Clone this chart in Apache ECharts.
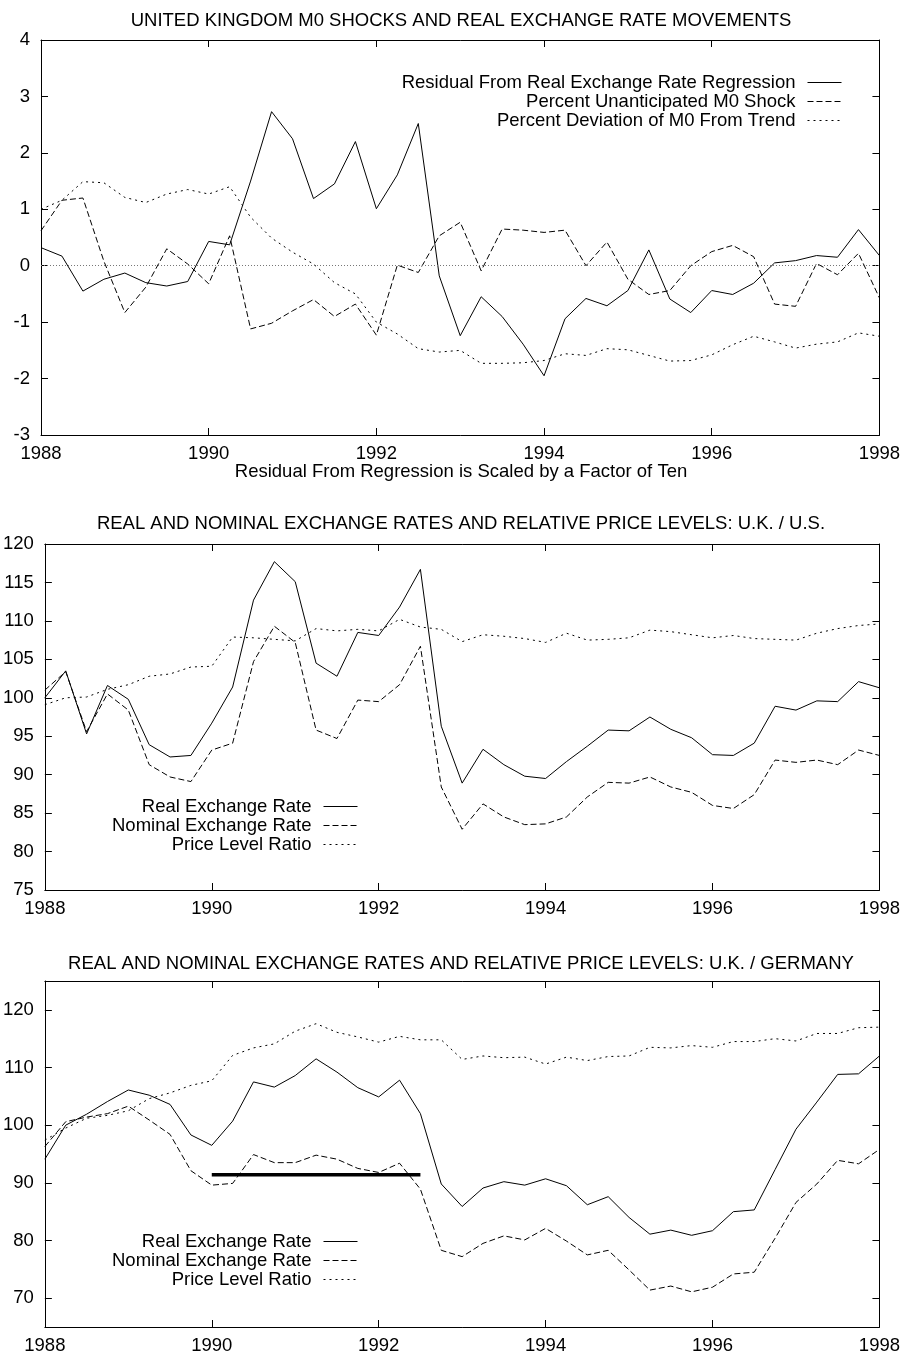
<!DOCTYPE html>
<html><head><meta charset="utf-8">
<script src="https://cdn.jsdelivr.net/npm/echarts@6/dist/echarts.min.js"></script>
<style>html,body{margin:0;padding:0;background:#fff}#c{width:903px;height:1355px}</style>
</head><body><div id="c"></div>
<script>
// ---- data ----
const quarters = [1988, 1988.25, 1988.5, 1988.75, 1989, 1989.25, 1989.5, 1989.75,
  1990, 1990.25, 1990.5, 1990.75, 1991, 1991.25, 1991.5, 1991.75,
  1992, 1992.25, 1992.5, 1992.75, 1993, 1993.25, 1993.5, 1993.75,
  1994, 1994.25, 1994.5, 1994.75, 1995, 1995.25, 1995.5, 1995.75,
  1996, 1996.25, 1996.5, 1996.75, 1997, 1997.25, 1997.5, 1997.75, 1998];

const m0Residual = [0.32, 0.17, -0.45, -0.24, -0.13, -0.30, -0.36, -0.28, 0.43, 0.37, 1.50, 2.73, 2.25, 1.19, 1.45, 2.20, 1.01, 1.61, 2.52, -0.18,
  -1.24, -0.55, -0.90, -1.39, -1.95, -0.94, -0.58, -0.71, -0.44, 0.28, -0.59, -0.83, -0.44, -0.51, -0.31, 0.05, 0.09, 0.18, 0.15, 0.64, 0.18];
const m0Shock = [0.62, 1.16, 1.20, 0.08, -0.83, -0.38, 0.30, 0.03, -0.32, 0.53, -1.12, -1.02, -0.80, -0.60, -0.90, -0.68, -1.23, 0.01, -0.12, 0.53,
  0.77, -0.09, 0.65, 0.63, 0.59, 0.63, 0.00, 0.42, -0.24, -0.51, -0.44, 0.00, 0.25, 0.36, 0.16, -0.68, -0.72, 0.04, -0.16, 0.22, -0.57];
const m0Deviation = [1.00, 1.16, 1.49, 1.47, 1.21, 1.12, 1.27, 1.35, 1.27, 1.40, 0.86, 0.49, 0.24, 0.03, -0.30, -0.50, -1.00, -1.21, -1.47, -1.53,
  -1.50, -1.73, -1.73, -1.72, -1.68, -1.56, -1.59, -1.47, -1.49, -1.59, -1.69, -1.68, -1.58, -1.40, -1.25, -1.35, -1.46, -1.39, -1.35, -1.19, -1.25];

const usReal = [100.0, 103.5, 95.3, 101.6, 99.8, 93.9, 92.3, 92.5, 96.7, 101.4, 112.7, 117.7, 115.1, 104.5, 102.8, 108.5, 108.1, 111.8, 116.7, 96.3,
  88.9, 93.3, 91.3, 89.8, 89.5, 91.7, 93.7, 95.8, 95.7, 97.5, 95.9, 94.8, 92.6, 92.5, 94.1, 98.9, 98.4, 99.6, 99.5, 102.1, 101.3];
const usNominal = [101.0, 103.4, 95.6, 100.5, 98.4, 91.3, 89.7, 89.1, 93.2, 94.1, 104.7, 109.3, 107.2, 95.8, 94.7, 99.7, 99.5, 101.7, 106.7, 88.4,
  82.9, 86.2, 84.5, 83.5, 83.6, 84.5, 87.1, 89.0, 88.9, 89.7, 88.4, 87.7, 86.0, 85.6, 87.4, 91.9, 91.6, 91.9, 91.3, 93.2, 92.5];
const usPrice = [99.1, 100.0, 100.1, 101.1, 101.7, 102.8, 103.1, 104.0, 104.1, 107.9, 107.8, 107.6, 107.4, 109.0, 108.7, 108.9, 108.7, 110.2, 109.2, 108.9,
  107.3, 108.2, 108.0, 107.7, 107.2, 108.4, 107.5, 107.6, 107.8, 108.8, 108.6, 108.2, 107.8, 108.1, 107.7, 107.6, 107.5, 108.4, 109.0, 109.4, 109.6];

const deReal = [94.1, 100.0, 101.9, 104.1, 106.1, 105.2, 103.6, 98.3, 96.5, 100.7, 107.5, 106.6, 108.6, 111.5, 109.2, 106.5, 104.9, 107.8, 102.0, 89.8,
  85.9, 89.1, 90.2, 89.6, 90.7, 89.5, 86.2, 87.6, 84.0, 81.1, 81.8, 80.9, 81.7, 85.0, 85.3, 92.3, 99.3, 104.0, 108.8, 108.9, 112.0];
const deNominal = [96.3, 100.6, 101.4, 102.0, 103.3, 100.9, 98.4, 92.1, 89.6, 89.9, 94.9, 93.5, 93.5, 94.8, 94.1, 92.5, 91.8, 93.4, 88.9, 78.3,
  77.2, 79.5, 80.8, 80.1, 82.1, 79.9, 77.5, 78.3, 74.9, 71.4, 72.1, 71.1, 71.9, 74.2, 74.5, 80.4, 86.6, 89.8, 93.9, 93.3, 95.8];
const dePrice = [97.4, 99.5, 101.2, 101.7, 102.5, 104.6, 105.6, 106.9, 107.7, 112.1, 113.4, 114.1, 116.3, 117.6, 116.1, 115.3, 114.4, 115.4, 114.8, 114.8,
  111.4, 112.0, 111.7, 111.8, 110.6, 111.8, 111.2, 111.9, 112.0, 113.5, 113.4, 113.8, 113.5, 114.5, 114.5, 115.0, 114.6, 115.9, 115.9, 116.9, 117.0];

const bandYears = [1990, 1992.5];
const bandLevel = 91.4;

const xTicks = [1988, 1990, 1992, 1994, 1996, 1998];
const deYTicks = [70, 80, 90, 100, 110, 120];

const titles = [
  'UNITED KINGDOM M0 SHOCKS AND REAL EXCHANGE RATE MOVEMENTS',
  'REAL AND NOMINAL EXCHANGE RATES AND RELATIVE PRICE LEVELS: U.K. / U.S.',
  'REAL AND NOMINAL EXCHANGE RATES AND RELATIVE PRICE LEVELS: U.K. / GERMANY'
];
const subtitle1 = 'Residual From Regression is Scaled by a Factor of Ten';
const names1 = ['Residual From Real Exchange Rate Regression', 'Percent Unanticipated M0 Shock', 'Percent Deviation of M0 From Trend'];
const names2 = ['Real Exchange Rate', 'Nominal Exchange Rate', 'Price Level Ratio'];

// ---- styling ----
const FONT = '"Liberation Sans", Arial, Helvetica, sans-serif';
const FS = 18.5;
const DASH = [6, 3];
const DOT = [2, 4];

const grids = [
  {left: 41, right: 22, top: 40, height: 395},
  {left: 41, right: 22, top: 544, height: 346},
  {left: 41, right: 22, top: 981, height: 347}
];
const yRanges = [
  {min: -3, max: 4, interval: 1},
  {min: 75, max: 120, interval: 5},
  {min: 65, max: 125, custom: deYTicks}
];

const plain = v => String(v);

const xAxes = [], yAxes = [];
grids.forEach((g, i) => {
  ['bottom', 'top'].forEach(pos => {
    xAxes.push({
      gridIndex: i, type: 'value', position: pos, min: 1988, max: 1998, interval: 2,
      axisLine: {show: true, onZero: false, lineStyle: {color: '#000', width: 1}},
      axisTick: {show: true, inside: true, length: 7, lineStyle: {color: '#000', width: 1}},
      axisLabel: {show: pos === 'bottom', margin: 9, color: '#000', fontSize: FS, fontFamily: FONT,
        showMinLabel: true, showMaxLabel: true, formatter: plain},
      splitLine: {show: false}
    });
  });
  ['left', 'right'].forEach(pos => {
    const r = yRanges[i];
    const ax = {
      gridIndex: i, type: 'value', position: pos, min: r.min, max: r.max,
      axisLine: {show: true, onZero: false, lineStyle: {color: '#000', width: 1}},
      axisTick: {show: true, inside: true, length: 7, lineStyle: {color: '#000', width: 1}},
      axisLabel: {show: pos === 'left', margin: 11, color: '#000', fontSize: FS, fontFamily: FONT,
        showMinLabel: true, showMaxLabel: true, formatter: plain},
      splitLine: {show: false}
    };
    if (r.custom) {
      ax.axisTick.customValues = r.custom;
      ax.axisLabel.customValues = r.custom;
    } else {
      ax.interval = r.interval;
    }
    yAxes.push(ax);
  });
});

function lineSeries(name, gi, arr, type, extra) {
  return Object.assign({
    type: 'line', name: name, xAxisIndex: gi * 2, yAxisIndex: gi * 2,
    data: quarters.map((q, k) => [q, arr[k]]),
    symbol: 'none', showSymbol: false, silent: true, animation: false,
    lineStyle: {color: '#000', width: 1, type: type},
    itemStyle: {color: '#000'}, z: 3
  }, extra || {});
}

const series = [
  lineSeries(names1[0], 0, m0Residual, 'solid', {
    markLine: {silent: true, symbol: ['none', 'none'], label: {show: false}, animation: false,
      lineStyle: {color: '#777', type: [1, 2], width: 1}, data: [{yAxis: 0}]}
  }),
  lineSeries(names1[1], 0, m0Shock, DASH),
  lineSeries(names1[2], 0, m0Deviation, DOT),
  lineSeries(names2[0], 1, usReal, 'solid'),
  lineSeries(names2[1], 1, usNominal, DASH),
  lineSeries(names2[2], 1, usPrice, DOT),
  lineSeries(names2[0], 2, deReal, 'solid'),
  lineSeries(names2[1], 2, deNominal, DASH),
  lineSeries(names2[2], 2, dePrice, DOT),
  {
    type: 'line', name: 'band', xAxisIndex: 4, yAxisIndex: 4,
    data: bandYears.map(x => [x, bandLevel]),
    symbol: 'none', silent: true, animation: false,
    lineStyle: {color: '#000', width: 3.5}, z: 4
  }
];

function legend(names, right, top) {
  return {
    data: names, orient: 'vertical', align: 'right', right: right, top: top,
    padding: 0, itemGap: 0, itemWidth: 34, itemHeight: 10, selectedMode: false,
    itemStyle: {color: 'rgba(0,0,0,0)', borderColor: 'rgba(0,0,0,0)', borderWidth: 0},
    lineStyle: {width: 1},
    textStyle: {fontSize: FS, fontFamily: FONT, color: '#000', lineHeight: 19, padding: [0, 7, 0, 0]}
  };
}

function text(str, x, y) {
  return {type: 'text', x: x, y: y, silent: true,
    style: {text: str, fill: '#000', font: FS + 'px ' + FONT, align: 'center', verticalAlign: 'middle'}};
}

const option = {
  backgroundColor: '#fff',
  animation: false,
  grid: grids,
  xAxis: xAxes,
  yAxis: yAxes,
  legend: [legend(names1, 61, 73), legend(names2, 545, 797), legend(names2, 545, 1232)],
  series: series,
  graphic: [
    text(titles[0], 461, 21),
    text(subtitle1, 461, 471.5),
    text(titles[1], 461, 524),
    text(titles[2], 461, 963.5)
  ]
};

const chart = echarts.init(document.getElementById('c'), null, {renderer: 'canvas'});
chart.setOption(option);
</script>
</body></html>
